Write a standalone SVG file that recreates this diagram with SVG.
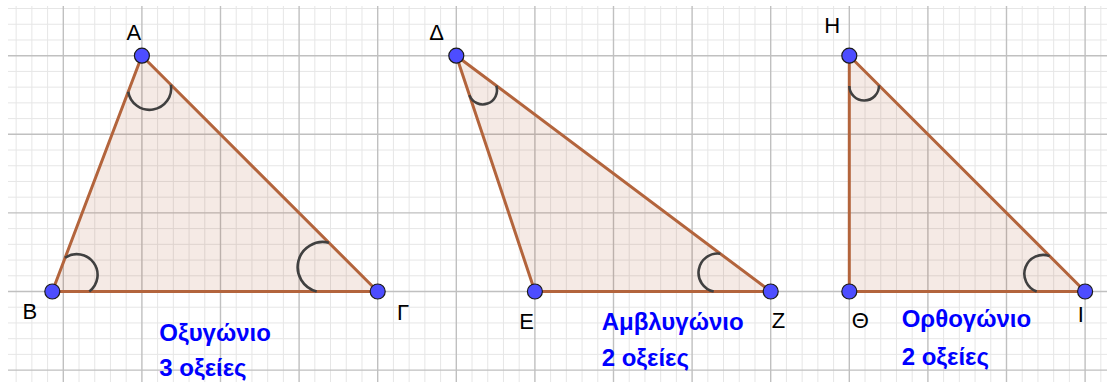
<svg xmlns="http://www.w3.org/2000/svg" width="1107" height="382" viewBox="0 0 1107 382">
<style>
.minor{stroke:#e6e6e6;stroke-width:1;fill:none}
.major{stroke:#c0c0c0;stroke-width:1.4;fill:none}
.tri{fill:#993300;fill-opacity:0.1;stroke:#b3643c;stroke-width:3;stroke-linejoin:round}
.arc{fill:none;stroke:#404040;stroke-width:2.6}
.pt{fill:#4d4dff;stroke:#1a1a1a;stroke-width:1.2}
.lbl{font-family:"Liberation Sans",Arial,sans-serif;font-size:22px;fill:#000}
.cap{font-family:"Liberation Sans",Arial,sans-serif;font-size:24px;font-weight:bold;fill:#0000ff}
</style>
<rect width="1107" height="382" fill="#fff"/>
<g id="grid">
<path class="minor" d="M16.14 6V382M31.86 6V382M47.58 6V382M79.02 6V382M94.74 6V382M110.46 6V382M126.18 6V382M157.62 6V382M173.34 6V382M189.06 6V382M204.78 6V382M236.22 6V382M251.94 6V382M267.66 6V382M283.38 6V382M314.82 6V382M330.54 6V382M346.26 6V382M361.98 6V382M393.42 6V382M409.14 6V382M424.86 6V382M440.58 6V382M472.02 6V382M487.74 6V382M503.46 6V382M519.18 6V382M550.62 6V382M566.34 6V382M582.06 6V382M597.78 6V382M629.22 6V382M644.94 6V382M660.66 6V382M676.38 6V382M707.82 6V382M723.54 6V382M739.26 6V382M754.98 6V382M786.42 6V382M802.14 6V382M817.86 6V382M833.58 6V382M865.02 6V382M880.74 6V382M896.46 6V382M912.18 6V382M943.62 6V382M959.34 6V382M975.06 6V382M990.78 6V382M1022.22 6V382M1037.94 6V382M1053.66 6V382M1069.38 6V382M1100.82 6V382"/>
<path class="minor" d="M8 8.54H1107M8 24.26H1107M8 39.98H1107M8 71.42H1107M8 87.14H1107M8 102.86H1107M8 118.58H1107M8 150.02H1107M8 165.74H1107M8 181.46H1107M8 197.18H1107M8 228.62H1107M8 244.34H1107M8 260.06H1107M8 275.78H1107M8 307.22H1107M8 322.94H1107M8 338.66H1107M8 354.38H1107"/>
<path class="major" d="M63.3 6V382M141.9 6V382M220.5 6V382M299.1 6V382M377.7 6V382M456.3 6V382M534.9 6V382M613.5 6V382M692.1 6V382M770.7 6V382M849.3 6V382M927.9 6V382M1006.5 6V382M1085.1 6V382"/>
<path class="major" d="M8 55.7H1107M8 134.3H1107M8 212.9H1107M8 291.5H1107M8 370.1H1107"/>
</g>
<g id="triangle-oxygonio">
<polygon class="tri" points="141.9,55.7 52.3,291.5 377.7,291.5"/>
<path class="arc" d="M128.2 91.7A21.6 21.6 0 0 0 170.9 84.7"/>
<path class="arc" d="M65.1 257.8A20.75 20.75 0 0 1 89.3 291.5"/>
<path class="arc" d="M328.9 242.7A25.15 25.15 0 0 0 316.7 291.5"/>
<circle class="pt" cx="141.9" cy="55.7" r="7.5"/>
<circle class="pt" cx="52.3" cy="291.5" r="7.5"/>
<circle class="pt" cx="377.7" cy="291.5" r="7.5"/>
<text class="lbl" x="126.5" y="39.5">Α</text>
<text class="lbl" x="22.5" y="319">Β</text>
<text class="lbl" x="397" y="319.5">Γ</text>
<text class="cap" x="159.3" y="341">Οξυγώνιο</text>
<text class="cap" x="159.3" y="376">3 οξείες</text>
</g>
<g id="triangle-amvlygonio">
<polygon class="tri" points="456.3,55.7 534.9,291.5 770.7,291.5"/>
<path class="arc" d="M469.4 95.1A14.25 14.25 0 0 0 496.3 85.7"/>
<path class="arc" d="M720.3 253.7A19.2 19.2 0 0 0 713.7 291.5"/>
<circle class="pt" cx="456.3" cy="55.7" r="7.5"/>
<circle class="pt" cx="534.9" cy="291.5" r="7.5"/>
<circle class="pt" cx="770.7" cy="291.5" r="7.5"/>
<text class="lbl" x="429.3" y="40">Δ</text>
<text class="lbl" x="519.3" y="329">Ε</text>
<text class="lbl" x="771.7" y="328.3">Ζ</text>
<text class="cap" x="601.7" y="330">Αμβλυγώνιο</text>
<text class="cap" x="601.7" y="366">2 οξείες</text>
</g>
<g id="triangle-orthogonio">
<polygon class="tri" points="849.3,55.7 849.3,291.5 1085.1,291.5"/>
<path class="arc" d="M849.3 86A14.85 14.85 0 0 0 879 85.4"/>
<path class="arc" d="M1049.7 256.1A18.85 18.85 0 0 0 1036.7 291.5"/>
<circle class="pt" cx="849.3" cy="55.7" r="7.5"/>
<circle class="pt" cx="849.3" cy="291.5" r="7.5"/>
<circle class="pt" cx="1085.1" cy="291.5" r="7.5"/>
<text class="lbl" x="824.3" y="33.3">Η</text>
<text class="lbl" x="851.7" y="328.3">Θ</text>
<text class="lbl" x="1077.7" y="321.7">Ι</text>
<text class="cap" x="901.7" y="327.3">Ορθογώνιο</text>
<text class="cap" x="901.7" y="365">2 οξείες</text>
</g>
</svg>
